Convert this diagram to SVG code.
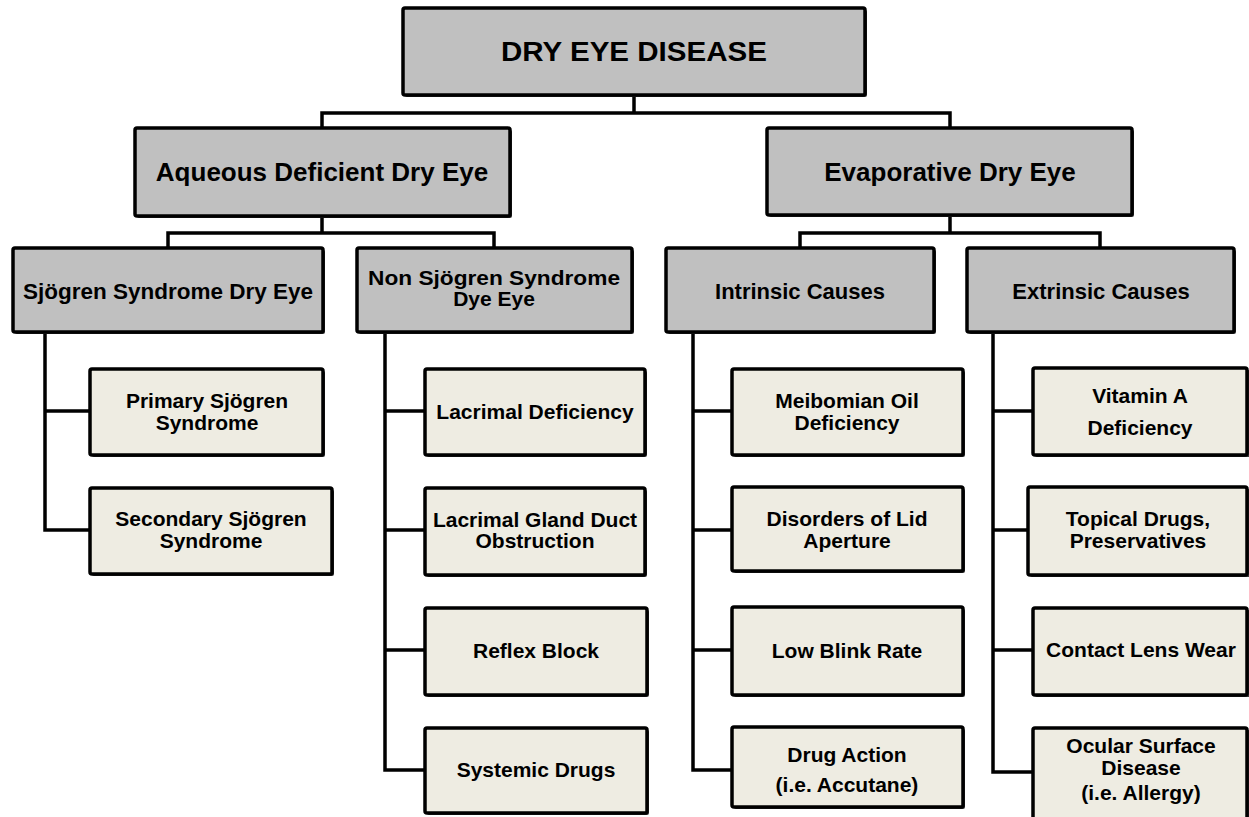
<svg xmlns="http://www.w3.org/2000/svg" width="1249" height="817" viewBox="0 0 1249 817">
<style>
.hd rect.b{fill:#C0C0C0;stroke:#000;stroke-width:3.5}
.lf rect.b{fill:#EEECE2;stroke:#000;stroke-width:3.5}
rect.s{fill:#333}
text{font-family:"Liberation Sans",Arial,sans-serif;font-weight:bold;fill:#000;text-anchor:middle}
.t1{font-size:27px}
.t2{font-size:26px}
.t3{font-size:22px}
.t4{font-size:21px}
#connectors path{fill:none;stroke:#000;stroke-width:3.5}
</style>
<rect width="1249" height="817" fill="#fff"/>
<g id="connectors">
<path d="M322,128 V113 H950 V128 M634,95 V113"/>
<path d="M168,248 V233 H494 V248 M322,216 V233"/>
<path d="M800,248 V233 H1100 V248 M950,215 V233"/>
<path d="M45,332 V530 H90 M45,411 H90"/>
<path d="M385,332 V770 H425 M385,411 H425 M385,530 H425 M385,650 H425"/>
<path d="M693,332 V770 H732 M693,411 H732 M693,530 H732 M693,650 H732"/>
<path d="M993,332 V772 H1033 M993,411 H1033 M993,530 H1028 M993,650 H1033"/>
</g>
<g id="n-root" class="hd"><rect class="s" x="405" y="10" width="462" height="87" rx="2"/><rect class="b" x="403" y="8" width="462" height="87" rx="2"/><text class="t1" x="634" y="61" textLength="266" lengthAdjust="spacingAndGlyphs">DRY EYE DISEASE</text></g>
<g id="n-aqueous" class="hd"><rect class="s" x="137" y="130" width="375" height="88" rx="2"/><rect class="b" x="135" y="128" width="375" height="88" rx="2"/><text class="t2" x="322" y="181">Aqueous Deficient Dry Eye</text></g>
<g id="n-evap" class="hd"><rect class="s" x="769" y="130" width="365" height="87" rx="2"/><rect class="b" x="767" y="128" width="365" height="87" rx="2"/><text class="t2" x="950" y="181">Evaporative Dry Eye</text></g>
<g id="n-sjogren" class="hd"><rect class="s" x="15" y="250" width="310" height="84" rx="2"/><rect class="b" x="13" y="248" width="310" height="84" rx="2"/><text class="t3" x="168" y="299" textLength="290" lengthAdjust="spacingAndGlyphs">Sjögren Syndrome Dry Eye</text></g>
<g id="n-nonsjogren" class="hd"><rect class="s" x="359" y="250" width="275" height="84" rx="2"/><rect class="b" x="357" y="248" width="275" height="84" rx="2"/><text class="t4" x="494" y="285" textLength="252" lengthAdjust="spacingAndGlyphs">Non Sjögren Syndrome</text><text class="t4" x="494" y="306">Dye Eye</text></g>
<g id="n-intrinsic" class="hd"><rect class="s" x="668" y="250" width="268" height="84" rx="2"/><rect class="b" x="666" y="248" width="268" height="84" rx="2"/><text class="t3" x="800" y="299">Intrinsic Causes</text></g>
<g id="n-extrinsic" class="hd"><rect class="s" x="969" y="250" width="267" height="84" rx="2"/><rect class="b" x="967" y="248" width="267" height="84" rx="2"/><text class="t3" x="1101" y="299">Extrinsic Causes</text></g>
<g id="n-primary" class="lf"><rect class="s" x="92" y="371" width="233" height="86" rx="2"/><rect class="b" x="90" y="369" width="233" height="86" rx="2"/><text class="t4" x="207" y="408">Primary Sjögren</text><text class="t4" x="207" y="430">Syndrome</text></g>
<g id="n-secondary" class="lf"><rect class="s" x="92" y="490" width="242" height="86" rx="2"/><rect class="b" x="90" y="488" width="242" height="86" rx="2"/><text class="t4" x="211" y="526">Secondary Sjögren</text><text class="t4" x="211" y="548">Syndrome</text></g>
<g id="n-lacdef" class="lf"><rect class="s" x="427" y="371" width="220" height="86" rx="2"/><rect class="b" x="425" y="369" width="220" height="86" rx="2"/><text class="t4" x="535" y="419">Lacrimal Deficiency</text></g>
<g id="n-lacgland" class="lf"><rect class="s" x="427" y="490" width="220" height="87" rx="2"/><rect class="b" x="425" y="488" width="220" height="87" rx="2"/><text class="t4" x="535" y="527">Lacrimal Gland Duct</text><text class="t4" x="535" y="548">Obstruction</text></g>
<g id="n-reflex" class="lf"><rect class="s" x="427" y="610" width="222" height="87" rx="2"/><rect class="b" x="425" y="608" width="222" height="87" rx="2"/><text class="t4" x="536" y="658">Reflex Block</text></g>
<g id="n-systemic" class="lf"><rect class="s" x="427" y="730" width="222" height="85" rx="2"/><rect class="b" x="425" y="728" width="222" height="85" rx="2"/><text class="t4" x="536" y="777">Systemic Drugs</text></g>
<g id="n-meibomian" class="lf"><rect class="s" x="734" y="371" width="231" height="86" rx="2"/><rect class="b" x="732" y="369" width="231" height="86" rx="2"/><text class="t4" x="847" y="408">Meibomian Oil</text><text class="t4" x="847" y="430">Deficiency</text></g>
<g id="n-lid" class="lf"><rect class="s" x="734" y="489" width="231" height="84" rx="2"/><rect class="b" x="732" y="487" width="231" height="84" rx="2"/><text class="t4" x="847" y="526">Disorders of Lid</text><text class="t4" x="847" y="548">Aperture</text></g>
<g id="n-blink" class="lf"><rect class="s" x="734" y="609" width="231" height="88" rx="2"/><rect class="b" x="732" y="607" width="231" height="88" rx="2"/><text class="t4" x="847" y="658">Low Blink Rate</text></g>
<g id="n-drug" class="lf"><rect class="s" x="734" y="729" width="231" height="80" rx="2"/><rect class="b" x="732" y="727" width="231" height="80" rx="2"/><text class="t4" x="847" y="762">Drug Action</text><text class="t4" x="847" y="792">(i.e. Accutane)</text></g>
<g id="n-vitamin" class="lf"><rect class="s" x="1035" y="370" width="215" height="87" rx="2"/><rect class="b" x="1033" y="368" width="214" height="87" rx="2"/><text class="t4" x="1140" y="403">Vitamin A</text><text class="t4" x="1140" y="435">Deficiency</text></g>
<g id="n-topical" class="lf"><rect class="s" x="1030" y="489" width="220" height="88" rx="2"/><rect class="b" x="1028" y="487" width="219" height="88" rx="2"/><text class="t4" x="1138" y="526">Topical Drugs,</text><text class="t4" x="1138" y="548">Preservatives</text></g>
<g id="n-contact" class="lf"><rect class="s" x="1035" y="610" width="215" height="87" rx="2"/><rect class="b" x="1033" y="608" width="214" height="87" rx="2"/><text class="t4" x="1141" y="657">Contact Lens Wear</text></g>
<g id="n-ocular" class="lf"><rect class="s" x="1035" y="730" width="215" height="95" rx="2"/><rect class="b" x="1033" y="728" width="214" height="95" rx="2"/><text class="t4" x="1141" y="753">Ocular Surface</text><text class="t4" x="1141" y="775">Disease</text><text class="t4" x="1141" y="800">(i.e. Allergy)</text></g>
</svg>
